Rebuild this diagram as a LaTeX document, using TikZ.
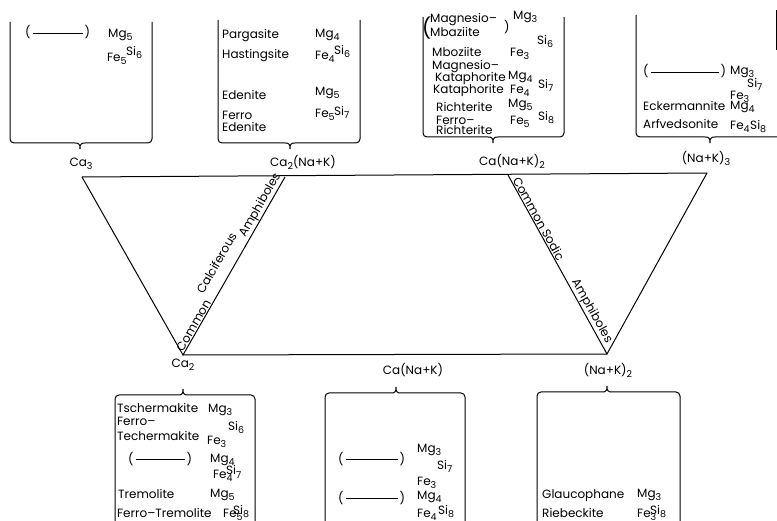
\documentclass[tikz,border=0pt]{standalone}
\usepackage{fontspec}
\setmainfont{Poppins}
\newcommand\lo[1]{\raisebox{-3pt}{\fontsize{9.5}{9.5}\selectfont #1}}
\newcommand\blk[1]{(\hspace{2pt}\rule[3.5pt]{#1}{0.7pt}\hspace{2pt})}
\newcommand\mytopbox[5]{%
\draw[bx] (#1,#3) -- (#1,#4-4) to[out=-90,in=180] (#1+4,#4) -- (#5-5,#4) .. controls (#5-1,#4) and (#5,#4+1) .. (#5,#4+6) .. controls (#5,#4+1) and (#5+1,#4) .. (#5+5,#4) -- (#2-4,#4) to[out=0,in=-90] (#2,#4-4) -- (#2,#3);}
\newcommand\mybotbox[5]{%
\draw[bx] (#1,#4) -- (#1,#3+4) to[out=90,in=180] (#1+4,#3) -- (#5-5,#3) .. controls (#5-1,#3) and (#5,#3-1) .. (#5,#3-6) .. controls (#5,#3-1) and (#5+1,#3) .. (#5+5,#3) -- (#2-4,#3) to[out=0,in=90] (#2,#3+4) -- (#2,#4);}
\begin{document}
\begin{tikzpicture}[x=1pt,y=-1pt,
  font=\fontsize{12}{12}\selectfont,
  tx/.style={anchor=base west, inner sep=0pt},
  lb/.style={anchor=base, inner sep=0pt},
  ln/.style={line width=1pt},
  bx/.style={line width=1pt},
  rl/.style={sloped, above, inner sep=1pt}]
\useasboundingbox (0,0) rectangle (777,521);

% corners
\coordinate (A) at (82,177);
\coordinate (B) at (285,177);
\coordinate (C) at (508,175);
\coordinate (D) at (707,173);
\coordinate (E) at (183,355);
\coordinate (F) at (607,354);
\coordinate (E2) at ([shift={(-9.5,-5.5)}]E);
\coordinate (B2) at ([shift={(-9.5,-5.5)}]B);

\draw[ln] (A) -- (D);
\draw[ln] (E) -- (F);
\draw[ln] (A) -- (E) -- (B);
\draw[ln] (C) -- (F) -- (D);

\path (E) -- (B)
  node[rl,pos=0.15] (rc1) {Common}
  node[rl,pos=0.82] (rc3) {Amphiboles};
\path (E2) -- (B2)
  node[rl,pos=0.47] (rc2) {Calciferous};
\path (C) -- (F)
  node[rl,pos=0.26] (rs1) {Common Sodic}
  node[rl,pos=0.78] (rs2) {Amphiboles};

% labels
\node[lb] (l1) at (81,167) {Ca\lo{3}};
\node[lb] (l2) at (303,167) {Ca\lo{2}(Na+K)};
\node[lb] (l3) at (512,166) {Ca(Na+K)\lo{2}};
\node[lb] (l4) at (706,163) {(Na+K)\lo{3}};
\node[lb] (l5) at (183,368) {Ca\lo{2}};
\node[lb] (l6) at (413,375) {Ca(Na+K)};
\node[lb] (l7) at (608,375) {(Na+K)\lo{2}};

% boxes
\mytopbox{10}{152}{22}{143}{80}
\mytopbox{218}{360}{20}{143}{290}
\mytopbox{423}{564}{17}{137}{493}
\mytopbox{636}{781}{15}{137}{710}
\draw[bx] (776,10) -- (776,50);
\mybotbox{115}{255}{395}{530}{183}
\mybotbox{325}{465}{393}{530}{396}
\mybotbox{537}{680}{392}{530}{607}

% T1
\node[tx] (t1n) at (25,37) {\blk{50pt}};
\node[tx] (t1m) at (108,38) {Mg\lo{5}};
\node[tx] (t1f) at (107,62) {Fe\lo{5}};
\node[tx] (t1s) at (126,56) {Si\lo{6}};

% T2
\node[tx] (t2a) at (222,39) {Pargasite};
\node[tx] (t2b) at (222,59) {Hastingsite};
\node[tx] (t2c) at (315,38) {Mg\lo{4}};
\node[tx] (t2d) at (315,60) {Fe\lo{4}};
\node[tx] (t2e) at (334,55) {Si\lo{6}};
\node[tx] (t2f) at (222,100) {Edenite};
\node[tx] (t2g) at (222,120) {Ferro};
\node[tx] (t2h) at (222,132) {Edenite};
\node[tx] (t2i) at (315,96) {Mg\lo{5}};
\node[tx] (t2j) at (315,118) {Fe\lo{5}};
\node[tx] (t2k) at (334,116) {Si\lo{7}};

% T3
\node[tx, font=\fontsize{20}{20}\selectfont] (t3p) at (422,36) {(};
\node[tx] (t3a) at (430,23) {Magnesio–};
\node[tx] (t3b) at (430,37) {Mbaziite};
\node[tx] (t3q) at (504,32) {)};
\node[tx] (t3c) at (513,20) {Mg\lo{3}};
\node[tx] (t3d) at (537,45) {Si\lo{6}};
\node[tx] (t3e) at (432,57) {Mboziite};
\node[tx] (t3f) at (510,57) {Fe\lo{3}};
\node[tx] (t3g) at (432,70) {Magnesio–};
\node[tx] (t3h) at (435,82) {Kataphorite};
\node[tx] (t3i) at (508,80) {Mg\lo{4}};
\node[tx] (t3j) at (538,89) {Si\lo{7}};
\node[tx] (t3k) at (433,94) {Kataphorite};
\node[tx] (t3l) at (510,94) {Fe\lo{4}};
\node[tx] (t3m) at (436,112) {Richterite};
\node[tx] (t3n) at (508,108) {Mg\lo{5}};
\node[tx] (t3o) at (538,121) {Si\lo{8}};
\node[tx] (t3r) at (510,125) {Fe\lo{5}};
\node[tx] (t3s) at (436,125) {Ferro–};
\node[tx] (t3t) at (436,135) {Richterite};

% T4
\node[tx] (t4n) at (643,76) {\blk{68pt}};
\node[tx] (t4a) at (730,75) {Mg\lo{3}};
\node[tx] (t4b) at (747,88) {Si\lo{7}};
\node[tx] (t4c) at (730,100) {Fe\lo{3}};
\node[tx] (t4d) at (643,111) {Eckermannite};
\node[tx] (t4e) at (730,110) {Mg\lo{4}};
\node[tx] (t4f) at (643,129) {Arfvedsonite};
\node[tx] (t4g) at (730,130) {Fe\lo{4}};
\node[tx] (t4h) at (750,130) {Si\lo{8}};

% B1
\node[tx] (b1a) at (117,413) {Tschermakite};
\node[tx] (b1b) at (208,413) {Mg\lo{3}};
\node[tx] (b1c) at (117,425) {Ferro–};
\node[tx] (b1d) at (228,431) {Si\lo{6}};
\node[tx] (b1e) at (117,441) {Techermakite};
\node[tx] (b1f) at (207,444) {Fe\lo{3}};
\node[tx] (b1g) at (128,463) {\blk{49pt}};
\node[tx] (b1h) at (210,462) {Mg\lo{4}};
\node[tx] (b1i) at (213,478) {Fe\lo{4}};
\node[tx] (b1j) at (226,475) {Si\lo{7}};
\node[tx] (b1k) at (118,498) {Tremolite};
\node[tx] (b1l) at (210,497) {Mg\lo{5}};
\node[tx] (b1m) at (117,517) {Ferro–Tremolite};
\node[tx] (b1n) at (223,517) {Fe\lo{5}};
\node[tx] (b1o) at (233,514) {Si\lo{8}};

% B2
\node[tx] (b2a) at (338,463) {\blk{52pt}};
\node[tx] (b2b) at (417,452) {Mg\lo{3}};
\node[tx] (b2c) at (437,469) {Si\lo{7}};
\node[tx] (b2d) at (417,485) {Fe\lo{3}};
\node[tx] (b2e) at (338,502) {\blk{52pt}};
\node[tx] (b2f) at (417,499) {Mg\lo{4}};
\node[tx] (b2g) at (438,514) {Si\lo{8}};
\node[tx] (b2h) at (417,517) {Fe\lo{4}};

% B3
\node[tx] (b3a) at (542,498) {Glaucophane};
\node[tx] (b3b) at (637,497) {Mg\lo{3}};
\node[tx] (b3c) at (542,517) {Riebeckite};
\node[tx] (b3d) at (637,517) {Fe\lo{3}};
\node[tx] (b3e) at (650,514) {Si\lo{8}};
\end{tikzpicture}
\end{document}
